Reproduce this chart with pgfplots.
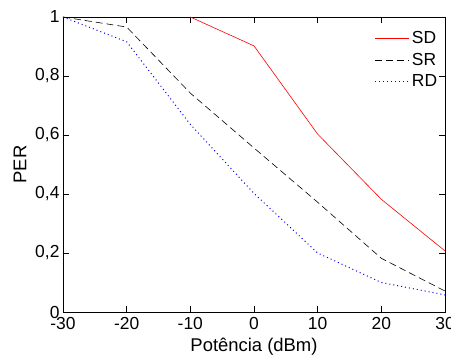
\documentclass[border=0pt]{standalone}
\usepackage{fontspec}
\setmainfont{Liberation Sans}
\usepackage{pgfplots}
\pgfplotsset{compat=1.18}
\begin{document}
\begin{tikzpicture}
\path[use as bounding box] (-63bp,-44bp) rectangle (388bp,312bp);
\begin{axis}[
  at={(0,0)}, anchor=south west,
  scale only axis, width=382bp, height=295bp,
  xmin=-30, xmax=30, ymin=0, ymax=1,
  xtick={-30,-20,...,30}, ytick={0,0.2,...,1},
  tick align=inside, major tick length=6bp,
  /pgf/number format/assume math mode=true,
  /pgf/number format/use comma,
  yticklabel={\pgfmathprintnumber[fixed,precision=1]{\tick}},
  font=\fontsize{17.5}{19}\selectfont,
  tick label style={font=\fontsize{17.5}{19}\selectfont},
  xticklabel style={yshift=-2bp},
  xlabel={Potência (dBm)}, ylabel={PER},
  label style={font=\fontsize{18.5}{21}\selectfont},
  xlabel style={yshift=-1bp},
  ylabel style={yshift=2bp},
  axis line style={line width=0.8pt},
  every tick/.style={line width=0.8pt, black},
  legend style={draw=none, fill=none, at={(rel axis cs:0.993,0.965)}, anchor=north east,
    font=\fontsize{17.5}{19}\selectfont, row sep=4bp},
  legend cell align=left,
  legend image code/.code={\draw[#1] (0cm,0cm) -- (1.2cm,0cm);},
]
\addplot[red, line width=0.6pt] coordinates {(-10,1) (0,0.902) (10,0.603) (20,0.382) (30,0.207)};
\addlegendentry{SD}
\addplot[black, line width=0.6pt, dash pattern=on 7bp off 4bp] coordinates {(-30,1) (-20,0.966) (-10,0.742) (0,0.556) (10,0.372) (20,0.182) (30,0.071)};
\addlegendentry{SR}
\addplot[blue, line width=1pt, dash pattern=on 1bp off 3bp] coordinates {(-30,1) (-20,0.916) (-10,0.636) (0,0.402) (10,0.2) (20,0.1) (30,0.058)};
\addlegendentry{RD}
\end{axis}
\end{tikzpicture}
\end{document}
